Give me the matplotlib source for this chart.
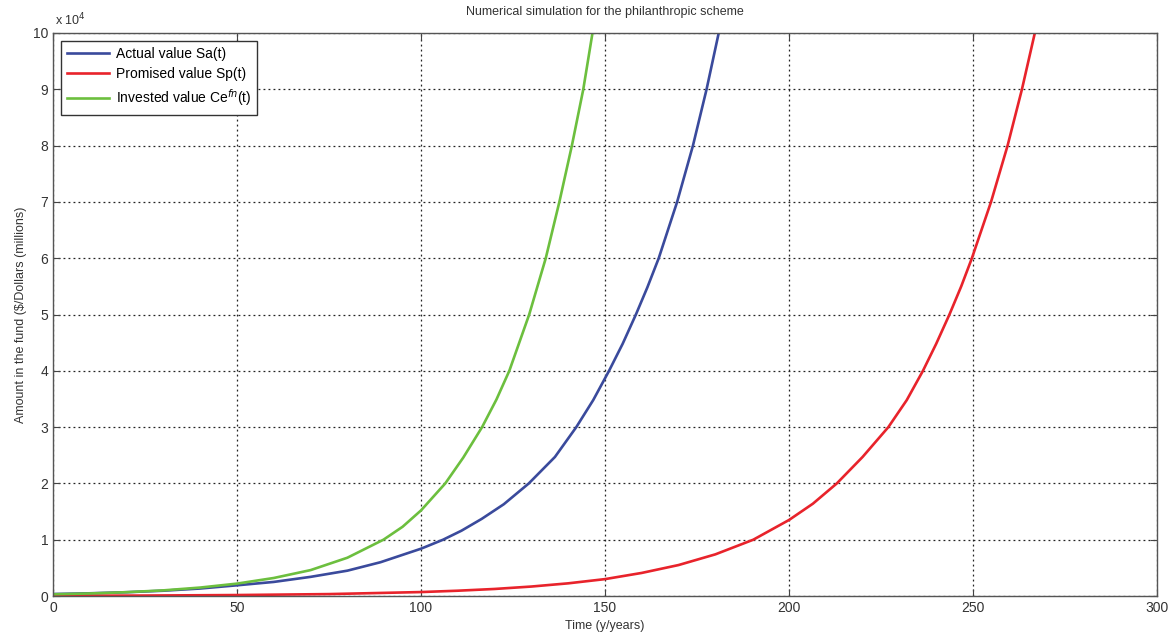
import matplotlib
matplotlib.use("Agg")
import matplotlib.pyplot as plt

plt.rcParams['font.family'] = ['Liberation Sans', 'DejaVu Sans']

# Values in units of 10^4
t_actual = [0, 10, 20, 30, 40, 50, 60, 70, 80, 89, 100, 106, 111, 116.5, 122.5, 129.3,
            136.4, 142.2, 146.8, 151.1, 154.8, 158.4, 161.5, 164.6, 169.6, 173.9,
            177.6, 180.9]
actual = [0.035, 0.048, 0.067, 0.094, 0.133, 0.19, 0.25, 0.34, 0.45, 0.60, 0.84, 1.0,
          1.16, 1.37, 1.63, 2.0, 2.47, 3.0, 3.48, 4.0, 4.48, 5.0, 5.48, 6.0, 7.0, 8.0,
          9.0, 10.0]

t_promised = [0, 25, 50, 75, 100, 110, 120, 130, 140, 150, 160, 170, 180, 190.3, 200,
              206.5, 213, 220, 227, 232, 236.4, 240, 243.6, 246.8, 249.7, 254.9, 259.4,
              263.3, 266.8]
promised = [0.004, 0.008, 0.017, 0.034, 0.07, 0.094, 0.125, 0.168, 0.225, 0.30, 0.41,
            0.55, 0.74, 1.0, 1.35, 1.64, 2.0, 2.47, 3.0, 3.48, 4.0, 4.48, 5.0, 5.5, 6.0,
            7.0, 8.0, 9.0, 10.0]

t_invested = [0, 10, 20, 30, 40, 50, 60, 70, 80, 89.8, 95, 100, 106.6, 111.5, 116.6,
              120.5, 124.0, 129.4, 133.9, 137.6, 141.0, 144.1, 146.6]
invested = [0.03, 0.045, 0.068, 0.10, 0.15, 0.22, 0.32, 0.46, 0.68, 1.0, 1.23, 1.52,
            2.0, 2.46, 3.0, 3.49, 4.0, 5.0, 6.0, 7.0, 8.0, 9.0, 10.0]

labels = ['Actual value Sa(t)', 'Promised value Sp(t)', 'Invested value Ce$^{fn}$(t)']
colors = ['#3a4a9c', '#e8232b', '#6cbf3e']
x_ticks = [0, 50, 100, 150, 200, 250, 300]
y_ticks = [0, 1, 2, 3, 4, 5, 6, 7, 8, 9, 10]

fig = plt.figure(figsize=(11.76, 6.4), dpi=100)
ax = fig.add_axes([53/1176, 44/640, 1104/1176, 563/640])

ax.plot(t_actual, actual, color=colors[0], lw=1.9, label=labels[0])
ax.plot(t_promised, promised, color=colors[1], lw=1.9, label=labels[1])
ax.plot(t_invested, invested, color=colors[2], lw=1.9, label=labels[2])

ax.set_xlim(0, 300)
ax.set_ylim(0, 10)
ax.set_xticks(x_ticks)
ax.set_yticks(y_ticks)
ax.grid(True, linestyle=(0, (1.5, 2.5)), color='#222222', lw=0.9)
ax.tick_params(direction='in', top=True, right=True, length=5, labelsize=10,
               colors='#444444', labelcolor='#333333')
for s in ax.spines.values():
    s.set_color('#555555')
    s.set_linewidth(1.0)

ax.set_title('Numerical simulation for the philanthropic scheme', fontsize=9,
             color='#333333', pad=13)
ax.set_xlabel('Time (y/years)', fontsize=9, color='#333333', labelpad=4)
ax.set_ylabel('Amount in the fund (\\$/Dollars (millions)', fontsize=9,
              color='#333333', labelpad=4)
ax.text(0.002, 1.008, 'x 10$^4$', transform=ax.transAxes, fontsize=9,
        color='#333333', ha='left', va='bottom')

leg = ax.legend(loc='upper left', fontsize=10, frameon=True, fancybox=False,
                edgecolor='#333333', framealpha=1, borderpad=0.45,
                handlelength=3.0, handletextpad=0.5, labelspacing=0.45,
                borderaxespad=0.55)
leg.get_frame().set_linewidth(1.0)

fig.savefig('out.png', dpi=100, facecolor='white')
